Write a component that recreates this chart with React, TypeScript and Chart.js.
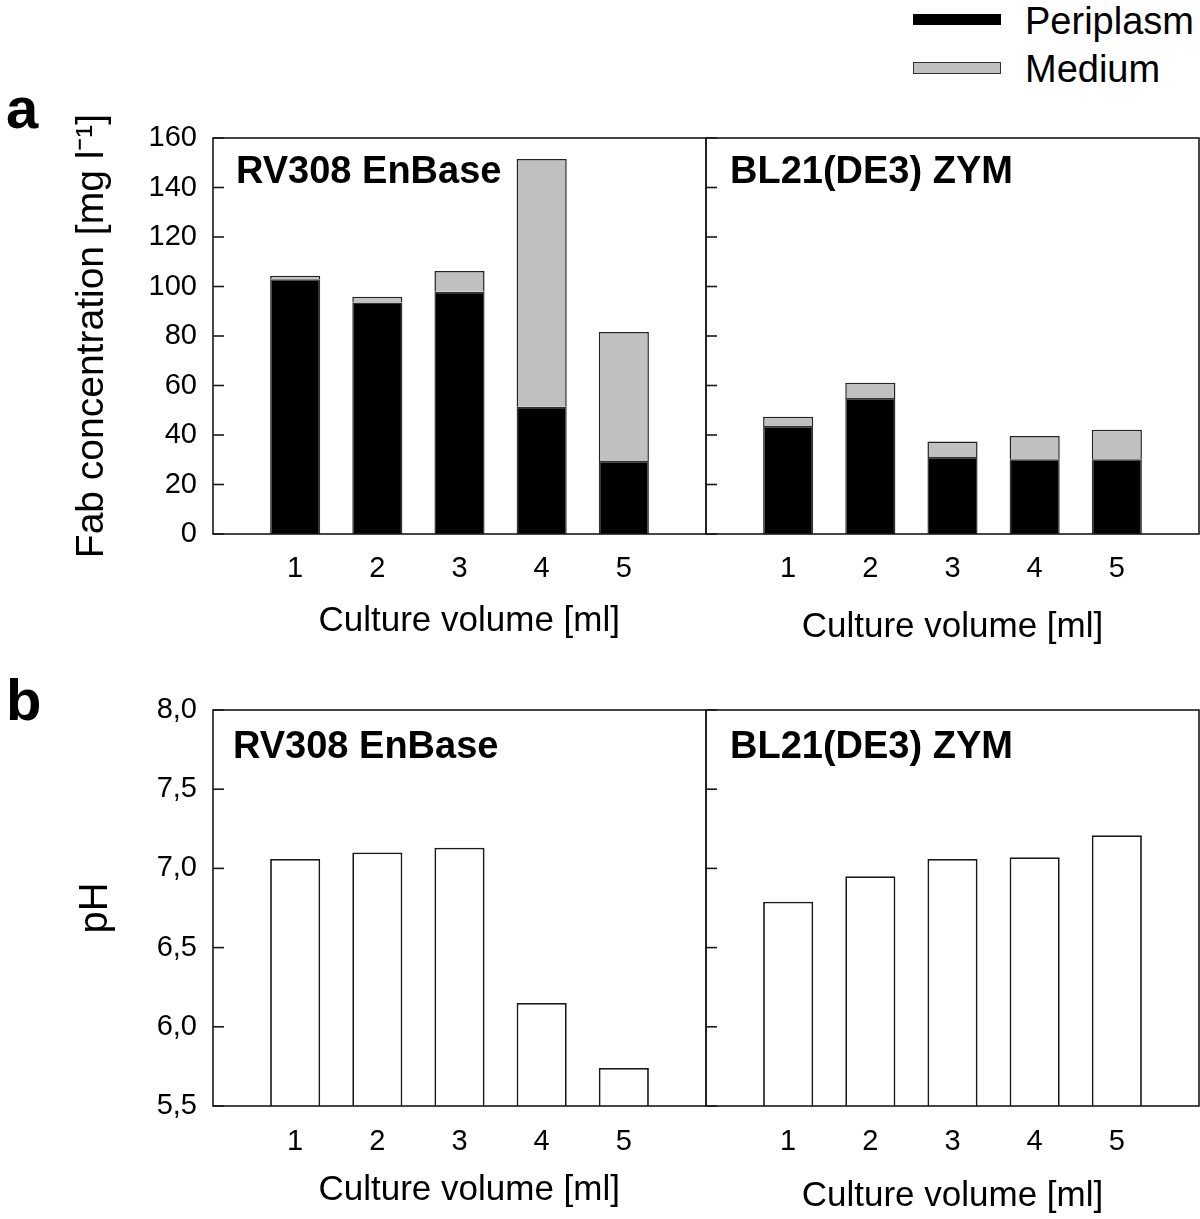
import { useEffect, useRef } from 'react';
import { Chart, registerables } from 'chart.js';

Chart.register(...registerables);

const FONT = '"Liberation Sans", Arial, Helvetica, sans-serif';
Chart.defaults.font.family = FONT;
Chart.defaults.color = '#000';

// culture volumes (x positions)
const volumes = [1, 2, 3, 4, 5];

// Fab concentration [mg/l]
const rvPeriplasm = [102.9, 93.5, 97.9, 51.4, 29.5];
const rvMedium = [1.4, 2.4, 8.4, 100.1, 52.1];
const blPeriplasm = [43.6, 55.0, 31.1, 30.2, 30.2];
const blMedium = [3.8, 6.1, 6.3, 9.4, 11.9];

// pH, panel b
const rvPH = [7.06, 7.1, 7.13, 6.15, 5.74];
const blPH = [6.79, 6.95, 7.06, 7.07, 7.21];

const fabAxis = { min: 0, max: 160, step: 20 };
const phAxis = { min: 5.5, max: 8, step: 0.5 };

const toPoints = (vals: number[]) => volumes.map((v, i) => ({ x: v, y: vals[i] }));

// frame, inward y ticks and the panel caption
const panelPlugin = {
  id: 'panel',
  afterDatasetsDraw(chart: any, _args: any, opts: any) {
    const { ctx, chartArea: a } = chart;
    const y = chart.scales.y;
    ctx.save();
    ctx.strokeStyle = '#1a1a1a';
    ctx.lineWidth = 1.6;
    ctx.strokeRect(a.left, a.top, a.right - a.left, a.bottom - a.top);
    for (const t of y.ticks) {
      const py = y.getPixelForValue(t.value);
      ctx.beginPath();
      ctx.moveTo(a.left, py);
      ctx.lineTo(a.left + 11, py);
      ctx.stroke();
    }
    ctx.fillStyle = '#000';
    ctx.font = `bold 38px ${FONT}`;
    ctx.textBaseline = 'alphabetic';
    ctx.fillText(opts.title, a.left + opts.dx, a.top + opts.dy);
    ctx.restore();
  },
};

interface PanelSpec {
  datasets: any[];
  stacked: boolean;
  axis: { min: number; max: number; step: number };
  fmt: (v: number) => string;
  yTitle?: string;
  yTitleSize?: number;
  yTitlePad?: number;
  showYLabels: boolean;
  yWidth: number;
  xHeight: number;
  xTickPad: number;
  xTitle: string;
  xTitlePad: number;
  padding: { top: number; right: number; left: number; bottom: number };
  title: string;
  dx: number;
  dy: number;
}

function buildConfig(s: PanelSpec): any {
  return {
    type: 'bar',
    data: { datasets: s.datasets },
    plugins: [panelPlugin],
    options: {
      responsive: false,
      animation: false,
      layout: { padding: s.padding },
      plugins: {
        legend: { display: false },
        tooltip: { enabled: false },
        panel: { title: s.title, dx: s.dx, dy: s.dy },
      },
      scales: {
        x: {
          type: 'linear',
          min: 0,
          max: 6,
          offset: false,
          stacked: s.stacked,
          grid: { display: false, drawTicks: false },
          border: { display: false },
          afterBuildTicks: (sc: any) => {
            sc.ticks = volumes.map((v) => ({ value: v }));
          },
          afterFit: (sc: any) => {
            sc.height = s.xHeight;
          },
          ticks: {
            autoSkip: false,
            maxRotation: 0,
            font: { size: 29 },
            padding: s.xTickPad,
            callback: (v: number) => String(v),
          },
          title: {
            display: true,
            text: s.xTitle,
            font: { size: 35 },
            padding: { top: 0, bottom: s.xTitlePad },
          },
        },
        y: {
          min: s.axis.min,
          max: s.axis.max,
          stacked: s.stacked,
          grid: { display: false, drawTicks: false },
          border: { display: false },
          afterFit: (sc: any) => {
            sc.width = s.yWidth;
          },
          ticks: {
            display: s.showYLabels,
            stepSize: s.axis.step,
            font: { size: 29 },
            padding: 16,
            callback: s.fmt,
          },
          title: {
            display: !!s.yTitle,
            text: s.yTitle || '',
            font: { size: s.yTitleSize || 40 },
            padding: { top: s.yTitlePad || 0, bottom: 0 },
          },
        },
      },
    },
  };
}

const stackSets = (peri: number[], med: number[]) => [
  {
    label: 'Periplasm',
    data: toPoints(peri),
    backgroundColor: '#000',
    borderColor: '#333',
    borderWidth: 1.5,
    barPercentage: 0.61,
    categoryPercentage: 1,
  },
  {
    label: 'Medium',
    data: toPoints(med),
    backgroundColor: '#c0c0c0',
    borderColor: '#222',
    borderWidth: 1.5,
    barPercentage: 0.61,
    categoryPercentage: 1,
  },
];

const phSet = (vals: number[]) => [
  {
    label: 'pH',
    data: toPoints(vals),
    backgroundColor: '#fff',
    borderColor: '#1a1a1a',
    borderWidth: 1.8,
    barPercentage: 0.61,
    categoryPercentage: 1,
  },
];

const fabFmt = (v: number) => String(v);
const phFmt = (v: number) => v.toFixed(1).replace('.', ',');

const topLeft: PanelSpec = {
  datasets: stackSets(rvPeriplasm, rvMedium),
  stacked: true,
  axis: fabAxis,
  fmt: fabFmt,
  yTitle: 'Fab concentration [mg l\u207B\u00B9]',
  yTitleSize: 39,
  yTitlePad: 69,
  showYLabels: true,
  yWidth: 213,
  xHeight: 120,
  xTickPad: 18,
  xTitle: '  Culture volume [ml]',
  xTitlePad: 12,
  padding: { top: 38, right: 2, left: 0, bottom: 0 },
  title: 'RV308 EnBase',
  dx: 23,
  dy: 45,
};

const topRight: PanelSpec = {
  datasets: stackSets(blPeriplasm, blMedium),
  stacked: true,
  axis: fabAxis,
  fmt: fabFmt,
  showYLabels: false,
  yWidth: 6,
  xHeight: 126,
  xTickPad: 18,
  xTitle: 'Culture volume [ml]',
  xTitlePad: 12,
  padding: { top: 38, right: 1, left: 0, bottom: 0 },
  title: 'BL21(DE3) ZYM',
  dx: 24,
  dy: 45,
};

const bottomLeft: PanelSpec = {
  datasets: phSet(rvPH),
  stacked: false,
  axis: phAxis,
  fmt: phFmt,
  yTitle: 'pH',
  yTitleSize: 40,
  yTitlePad: 72,
  showYLabels: true,
  yWidth: 213,
  xHeight: 113,
  xTickPad: 19,
  xTitle: '  Culture volume [ml]',
  xTitlePad: 8,
  padding: { top: 40, right: 2, left: 0, bottom: 0 },
  title: 'RV308 EnBase',
  dx: 20,
  dy: 48,
};

const bottomRight: PanelSpec = {
  datasets: phSet(blPH),
  stacked: false,
  axis: phAxis,
  fmt: phFmt,
  showYLabels: false,
  yWidth: 6,
  xHeight: 113,
  xTickPad: 19,
  xTitle: 'Culture volume [ml]',
  xTitlePad: 2,
  padding: { top: 40, right: 1, left: 0, bottom: 0 },
  title: 'BL21(DE3) ZYM',
  dx: 24,
  dy: 48,
};

function Panel({ spec, left, top, width, height }: { spec: PanelSpec; left: number; top: number; width: number; height: number }) {
  const canvasRef = useRef<HTMLCanvasElement | null>(null);

  useEffect(() => {
    if (!canvasRef.current) return;
    const chart = new Chart(canvasRef.current, buildConfig(spec));
    return () => chart.destroy();
  }, [spec]);

  return <canvas ref={canvasRef} width={width} height={height} style={{ position: 'absolute', left, top, width, height }} />;
}

export default function App() {
  const letter = { position: 'absolute' as const, left: 6, font: `bold 58px/58px ${FONT}`, color: '#000' };
  const legendText = { position: 'absolute' as const, left: 1025, font: `38px/38px ${FONT}`, color: '#000', whiteSpace: 'nowrap' as const };
  return (
    <div style={{ position: 'absolute', left: 0, top: 0, width: 1200, height: 1219, overflow: 'hidden', background: '#fff' }}>
      <Panel spec={topLeft} left={0} top={100} width={708} height={554} />
      <Panel spec={topRight} left={700} top={100} width={500} height={560} />
      <Panel spec={bottomLeft} left={0} top={670} width={708} height={549} />
      <Panel spec={bottomRight} left={700} top={670} width={500} height={549} />

      <div style={{ ...letter, top: 79 }}>a</div>
      <div style={{ ...letter, top: 671 }}>b</div>

      <div style={{ position: 'absolute', left: 913, top: 14, width: 88, height: 11, background: '#000' }} />
      <div style={{ position: 'absolute', left: 913, top: 62, width: 86, height: 10, background: '#c0c0c0', border: '1.5px solid #333' }} />
      <div style={{ ...legendText, top: 2 }}>Periplasm</div>
      <div style={{ ...legendText, top: 50 }}>Medium</div>
    </div>
  );
}
